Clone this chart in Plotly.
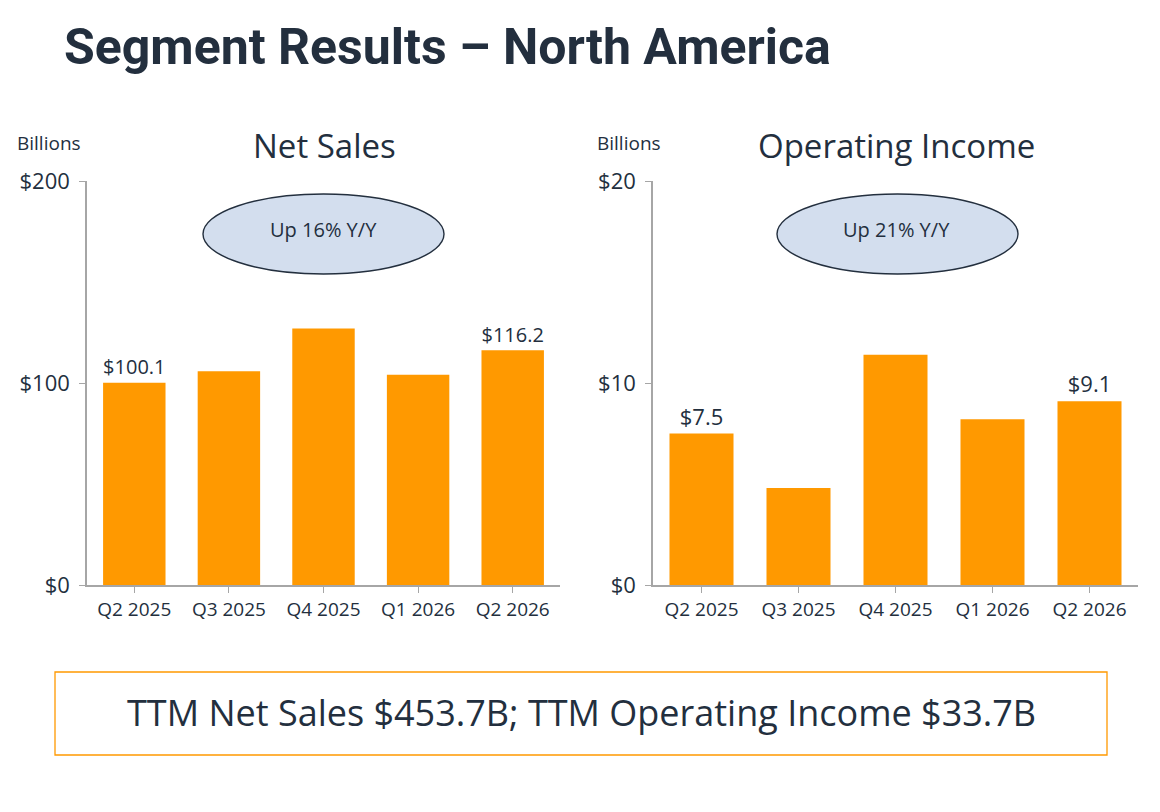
import plotly.graph_objects as go

# data
quarters = ["Q2 2025", "Q3 2025", "Q4 2025", "Q1 2026", "Q2 2026"]
net_sales = [100.1, 105.8, 127.0, 104.1, 116.2]
op_income = [7.5, 4.8, 11.4, 8.2, 9.1]
net_sales_ticks = [0, 100, 200]
op_income_ticks = [0, 10, 20]

INK = "#232F3E"
ORANGE = "#FF9900"
AXIS = "#A6A6A6"
FONT = "Open Sans"
TITLE_FONT = "Roboto"
W, H = 1160, 812
OFF = 8  # page body margin


def px(x):
    return (x - OFF) / W


def py(y):
    return 1 - (y - OFF) / H


def end_labels(vals, fmt):
    # only the first and last bars carry a label
    return [fmt.format(v) if i in (0, len(vals) - 1) else "" for i, v in enumerate(vals)]


fig = go.Figure()

fig.add_trace(go.Bar(
    x=quarters, y=net_sales, xaxis="x", yaxis="y",
    marker_color=ORANGE, marker_line_width=0,
    text=end_labels(net_sales, "${:.1f}"), textposition="outside",
    textfont=dict(size=22, color=INK, family=FONT),
    cliponaxis=False, hoverinfo="skip",
))
fig.add_trace(go.Bar(
    x=quarters, y=op_income, xaxis="x2", yaxis="y2",
    marker_color=ORANGE, marker_line_width=0,
    text=end_labels(op_income, "${:.1f}"), textposition="outside",
    textfont=dict(size=22, color=INK, family=FONT),
    cliponaxis=False, hoverinfo="skip",
))

xa = dict(
    showgrid=False, showline=True, linecolor=AXIS, linewidth=1.5,
    ticks="outside", ticklen=6, tickcolor=AXIS, automargin=False,
    tickfont=dict(size=19, color=INK, family=FONT), fixedrange=True,
)
ya = dict(
    showgrid=False, zeroline=False, showline=True, linecolor=AXIS, linewidth=1.5,
    ticks="outside", ticklen=6, tickcolor=AXIS, automargin=False,
    ticklabelstandoff=5,
    tickfont=dict(size=22, color=INK, family=FONT), fixedrange=True,
)

fig.update_layout(
    width=W, height=H,
    margin=dict(l=0, r=0, t=0, b=0, pad=0),
    paper_bgcolor="white", plot_bgcolor="white",
    showlegend=False, bargap=0.34,
    font=dict(family=FONT, color=INK),
    xaxis=dict(xa, domain=[px(87), px(560)], anchor="y"),
    yaxis=dict(ya, domain=[py(585), py(181)], anchor="x", range=[0, 200],
               tickvals=net_sales_ticks, ticktext=["$" + str(t) for t in net_sales_ticks]),
    xaxis2=dict(xa, domain=[px(653), px(1138)], anchor="y2"),
    yaxis2=dict(ya, domain=[py(585), py(181)], anchor="x2", range=[0, 20],
                tickvals=op_income_ticks, ticktext=["$" + str(t) for t in op_income_ticks]),
)

# callout ellipses
for x0, x1 in [(203, 444), (777, 1018)]:
    fig.add_shape(type="circle", xref="paper", yref="paper",
                  x0=px(x0), x1=px(x1), y0=py(274), y1=py(194),
                  fillcolor="#D3DEEE", line=dict(color=INK, width=1.4), layer="above")

# bottom TTM box
fig.add_shape(type="rect", xref="paper", yref="paper",
              x0=px(55), x1=px(1107), y0=py(755), y1=py(672),
              line=dict(color=ORANGE, width=1.3), fillcolor="white")

notes = [
    (62, 47, "<b>Segment Results – North America</b>", 50, "left", TITLE_FONT),
    (324, 146, "Net Sales", 33, "center", FONT),
    (897, 146, "Operating Income", 33, "center", FONT),
    (15, 143, "Billions", 19, "left", FONT),
    (595, 143, "Billions", 19, "left", FONT),
    (323, 229, "Up 16% Y/Y", 20, "center", FONT),
    (897, 229, "Up 21% Y/Y", 20, "center", FONT),
    (581, 712, "TTM Net Sales $453.7B; TTM Operating Income $33.7B", 36, "center", FONT),
]
for x, y, txt, size, anchor, fam in notes:
    fig.add_annotation(x=px(x), y=py(y), xref="paper", yref="paper",
                       text=txt, showarrow=False, xanchor=anchor, yanchor="middle",
                       font=dict(size=size, color=INK, family=fam))

fig.write_html("out.html")
